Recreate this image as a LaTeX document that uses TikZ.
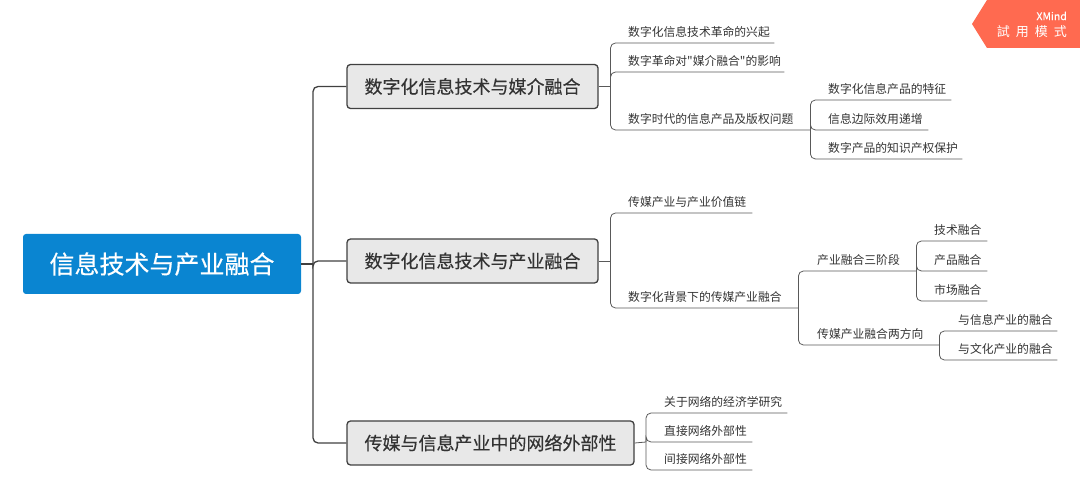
\documentclass[tikz,border=0pt]{standalone}
\usepackage{fontspec}
\setmainfont{Noto Sans CJK SC}
\newfontfamily\midfont[FakeBold=0.35]{Noto Sans CJK SC}
\newfontfamily\quotefont{Noto Sans CJK SC}
\definecolor{rootblue}{HTML}{0A85D1}
\definecolor{badgered}{HTML}{FF6A50}
\begin{document}
\begin{tikzpicture}[x=1pt,y=-1pt]
  \tikzstyle{root}=[rectangle,rounded corners=3pt,fill=rootblue,text=white,minimum width=278pt,minimum height=60pt,inner sep=0pt,font=\midfont\fontsize{25}{30}\selectfont]
  \tikzstyle{topic}=[rectangle,rounded corners=3.5pt,draw=black!75,line width=1.3pt,fill=black!9,text=black!80,minimum height=44pt,inner sep=0pt,font=\midfont\fontsize{18}{22}\selectfont]
  \tikzstyle{leaf}=[anchor=south west,align=left,inner xsep=0pt,inner ysep=4.5pt,text height=9.5pt,text depth=1.5pt,text=black!80,font=\fontsize{11.8}{14}\selectfont]
  \tikzstyle{trunk}=[draw,black!75,line width=1.3pt,rounded corners=5pt]
  \tikzstyle{edge}=[draw,black!65,line width=0.8pt,rounded corners=5pt]

  \useasboundingbox (0,0) rectangle (1080,494);

  \fill[badgered] (987,0) -- (972,24) -- (987,48) -- (1080,48) -- (1080,0) -- cycle;
  \node[anchor=east,text=white,inner sep=0pt,font=\midfont\fontsize{10.5}{12}\selectfont] (xmind) at (1067,16) {XMind};
  \node[anchor=east,text=white,inner sep=0pt,font=\fontsize{13}{15}\selectfont] (trial) at (1067,31.5) {試\hspace{6pt}用\hspace{6pt}模\hspace{6pt}式};

  \node[root] (root) at (162,264) {信息技术与产业融合};
  \node[topic,minimum width=251pt] (t1) at (472.5,86.5) {数字化信息技术与媒介融合};
  \node[topic,minimum width=251pt] (t2) at (472.5,261) {数字化信息技术与产业融合};
  \node[topic,minimum width=287pt] (t3) at (490.5,443) {传媒与信息产业中的网络外部性};

  \node[leaf,text width=146pt] (a1) at (628,43) {数字化信息技术革命的兴起};
  \node[leaf,text width=156pt] (a2) at (628,72) {数字革命对{\quotefont"}媒介融合{\quotefont"}的影响};
  \node[leaf,text width=182pt] (a3) at (628,130) {数字时代的信息产品及版权问题};
  \node[leaf,text width=123pt] (a4) at (828,100) {数字化信息产品的特征};
  \node[leaf,text width=100pt] (a5) at (828,130) {信息边际效用递增};
  \node[leaf,text width=134pt] (a6) at (828,159) {数字产品的知识产权保护};

  \node[leaf,text width=124pt] (b1) at (628,213) {传媒产业与产业价值链};
  \node[leaf,text width=170pt] (b2) at (628,308) {数字化背景下的传媒产业融合};
  \node[leaf,text width=99pt] (b3) at (817,271) {产业融合三阶段};
  \node[leaf,text width=122pt] (b4) at (817,345) {传媒产业融合两方向};
  \node[leaf,text width=53pt] (b5) at (934,241) {技术融合};
  \node[leaf,text width=53pt] (b6) at (934,271) {产品融合};
  \node[leaf,text width=53pt] (b7) at (934,301) {市场融合};
  \node[leaf,text width=99pt] (b8) at (958,331) {与信息产业的融合};
  \node[leaf,text width=99pt] (b9) at (958,360) {与文化产业的融合};

  \node[leaf,text width=123pt] (c1) at (664,413) {关于网络的经济学研究};
  \node[leaf,text width=88pt] (c2) at (664,442) {直接网络外部性};
  \node[leaf,text width=88pt] (c3) at (664,470) {间接网络外部性};

  \coordinate (k0) at (313,264);
  \coordinate (k1) at (610.5,86.5);
  \coordinate (k2) at (610.5,261);
  \coordinate (k3) at (646,442);

  \path[trunk] (root.east) -- (k0);
  \foreach \t in {t1,t2,t3} {
    \path[trunk] (k0) |- (\t.west);
  }

  \path[edge] (t1.east) -- (k1);
  \foreach \n in {a1,a2,a3} {
    \path[edge] (k1) |- (\n.south east);
  }
  \foreach \n in {a4,a5,a6} {
    \path[edge] (a3.south east) |- (\n.south east);
  }

  \path[edge] (t2.east) -- (k2);
  \foreach \n in {b1,b2} {
    \path[edge] (k2) |- (\n.south east);
  }
  \foreach \n in {b3,b4} {
    \path[edge] (b2.south east) |- (\n.south east);
  }
  \foreach \n in {b5,b6,b7} {
    \path[edge] (b3.south east) |- (\n.south east);
  }
  \foreach \n in {b8,b9} {
    \path[edge] (b4.south east) |- (\n.south east);
  }

  \path[edge] (t3.east) -- (k3);
  \foreach \n in {c1,c2,c3} {
    \path[edge] (k3) |- (\n.south east);
  }
\end{tikzpicture}
\end{document}
